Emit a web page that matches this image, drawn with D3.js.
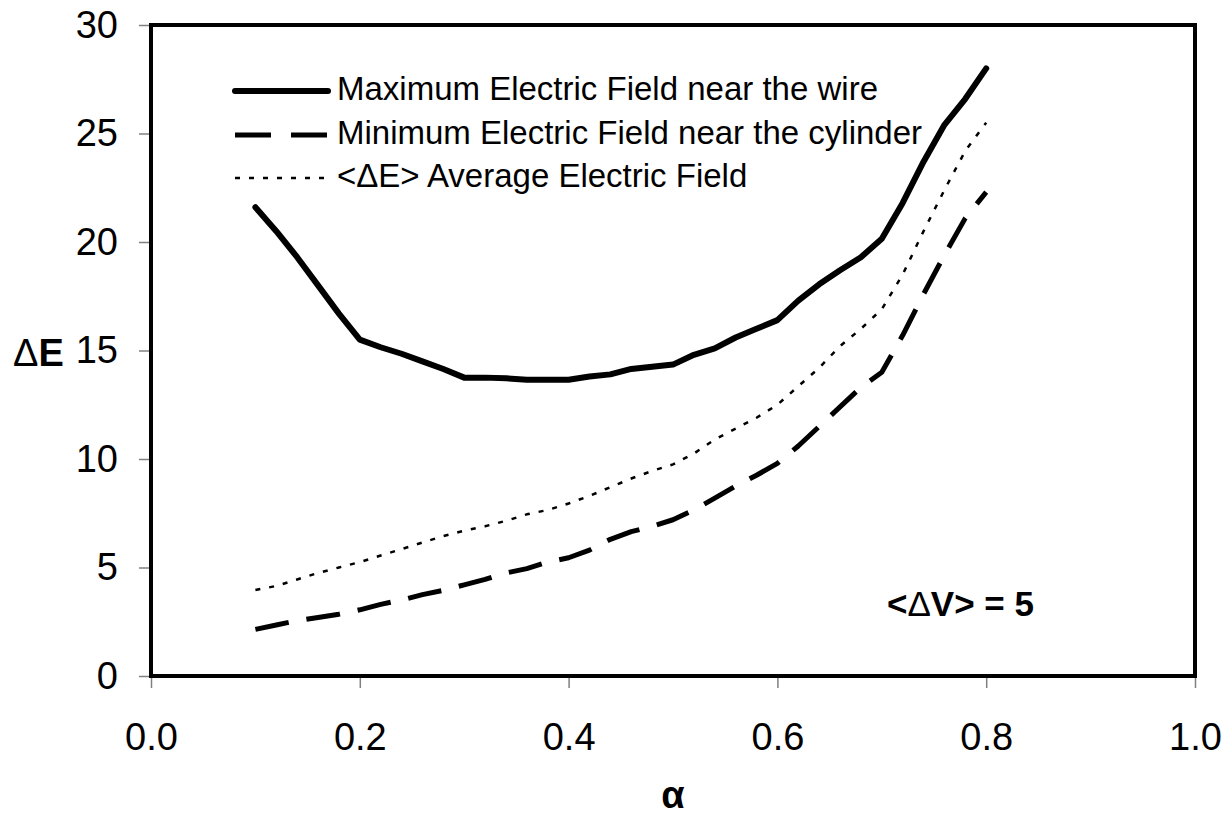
<!DOCTYPE html>
<html>
<head>
<meta charset="utf-8">
<script src="https://cdn.jsdelivr.net/npm/d3@7"></script>
<style>
  body { margin: 0; background: #fff; }
  text { font-family: Arial, "Liberation Sans", sans-serif; fill: #000; }
</style>
</head>
<body>
<svg id="chart" width="1232" height="830"></svg>
<script>
// alpha values (x axis)
var alpha = [0.10, 0.12, 0.14, 0.16, 0.18, 0.20, 0.22, 0.24, 0.26, 0.28,
             0.30, 0.32, 0.34, 0.36, 0.38, 0.40, 0.42, 0.44, 0.46, 0.48,
             0.50, 0.52, 0.54, 0.56, 0.58, 0.60, 0.62, 0.64, 0.66, 0.68,
             0.70, 0.72, 0.74, 0.76, 0.78, 0.80];

// maximum electric field near the wire
var maxField = [21.6, 20.5, 19.3, 18.0, 16.7, 15.5, 15.15, 14.85, 14.5, 14.15,
                13.75, 13.75, 13.72, 13.65, 13.65, 13.65, 13.8, 13.9, 14.15, 14.25,
                14.35, 14.8, 15.1, 15.6, 16.0, 16.4, 17.3, 18.05, 18.7, 19.3,
                20.15, 21.8, 23.7, 25.4, 26.6, 28.0];

// minimum electric field near the cylinder
var minField = [2.15, 2.35, 2.55, 2.7, 2.85, 3.05, 3.3, 3.5, 3.75, 3.95,
                4.2, 4.45, 4.75, 4.95, 5.25, 5.45, 5.8, 6.3, 6.65, 6.9,
                7.2, 7.65, 8.2, 8.75, 9.25, 9.8, 10.6, 11.5, 12.4, 13.3,
                14.0, 15.7, 17.6, 19.4, 21.1, 22.3];

// <dE> average electric field
var avgField = [3.96, 4.15, 4.45, 4.75, 5.0, 5.25, 5.55, 5.85, 6.15, 6.45,
                6.7, 6.9, 7.15, 7.45, 7.65, 7.95, 8.3, 8.7, 9.1, 9.45,
                9.75, 10.25, 10.9, 11.4, 11.9, 12.5, 13.35, 14.2, 15.2, 16.0,
                16.9, 18.5, 20.5, 22.4, 24.2, 25.5];

var xTicks = [0, 0.2, 0.4, 0.6, 0.8, 1.0];
var yTicks = [0, 5, 10, 15, 20, 25, 30];

var seriesNames = ["Maximum Electric Field near the wire",
                   "Minimum Electric Field near the cylinder",
                   "<\u0394E> Average Electric Field"];

var svg = d3.select("#chart");

var x = d3.scaleLinear().domain([0, 1]).range([151, 1195]);
var y = d3.scaleLinear().domain([0, 30]).range([676, 25]);

// line styles per series
var styles = [
  {width: 6, dash: null, cap: "round"},
  {width: 5, dash: "34,18", cap: "butt"},
  {width: 2.5, dash: "5,9", cap: "butt"}
];

// y axis ticks and labels
var yAxis = d3.axisLeft(y).tickValues(yTicks).tickSize(12).tickFormat(d3.format("d"));
var gy = svg.append("g").attr("transform", "translate(151,0)").call(yAxis);
gy.select(".domain").remove();
gy.selectAll(".tick line").attr("stroke", "#808080").attr("stroke-width", 1.5);
gy.selectAll(".tick text")
  .attr("x", -33)
  .style("font-size", "38px")
  .style("font-family", "Arial, 'Liberation Sans', sans-serif");

// x axis
var xAxis = d3.axisBottom(x).tickValues(xTicks).tickSize(12).tickFormat(d3.format(".1f"));
var gx = svg.append("g").attr("transform", "translate(0,676)").call(xAxis);
gx.select(".domain").remove();
gx.selectAll(".tick line").attr("stroke", "#808080").attr("stroke-width", 1.5);
gx.selectAll(".tick text")
  .attr("y", 0).attr("dy", 0)
  .attr("transform", "translate(0,74)")
  .style("font-size", "38px")
  .style("font-family", "Arial, 'Liberation Sans', sans-serif");

// plot frame
svg.append("rect")
  .attr("x", x(0)).attr("y", y(30))
  .attr("width", x(1) - x(0)).attr("height", y(0) - y(30))
  .attr("fill", "none").attr("stroke", "#000").attr("stroke-width", 4);

// series lines
var line = d3.line()
  .x(function(d) { return x(d[0]); })
  .y(function(d) { return y(d[1]); });

[maxField, minField, avgField].forEach(function(vals, i) {
  var pts = alpha.map(function(a, j) { return [a, vals[j]]; });
  svg.append("path")
    .datum(pts)
    .attr("d", line)
    .attr("fill", "none")
    .attr("stroke", "#000")
    .attr("stroke-width", styles[i].width)
    .attr("stroke-dasharray", styles[i].dash)
    .attr("stroke-linecap", styles[i].cap)
    .attr("stroke-linejoin", "round");
});

// legend
var legendY = [91, 135, 178];
seriesNames.forEach(function(name, i) {
  svg.append("line")
    .attr("x1", 235).attr("x2", 328)
    .attr("y1", legendY[i]).attr("y2", legendY[i])
    .attr("stroke", "#000")
    .attr("stroke-width", styles[i].width)
    .attr("stroke-dasharray", i == 1 ? "36,20" : styles[i].dash)
    .attr("stroke-linecap", styles[i].cap);
  svg.append("text")
    .attr("x", 337).attr("y", legendY[i] + 9)
    .style("font-size", "33px")
    .text(name);
});

// annotation
var note = svg.append("text")
  .attr("x", 887).attr("y", 616)
  .style("font-size", "35px")
  .style("font-weight", "bold");
note.append("tspan").text("<");
note.append("tspan").style("font-weight", "normal").text("\u0394");
note.append("tspan").text("V> = 5");

// y axis title
var yTitle = svg.append("text")
  .attr("x", 13).attr("y", 366)
  .style("font-size", "38px");
yTitle.append("tspan").text("\u0394");
yTitle.append("tspan").style("font-weight", "bold").text("E");

// x axis title
svg.append("text")
  .attr("x", 673).attr("y", 808)
  .attr("text-anchor", "middle")
  .style("font-size", "38px")
  .style("font-weight", "bold")
  .text("\u03b1");
</script>
</body>
</html>
